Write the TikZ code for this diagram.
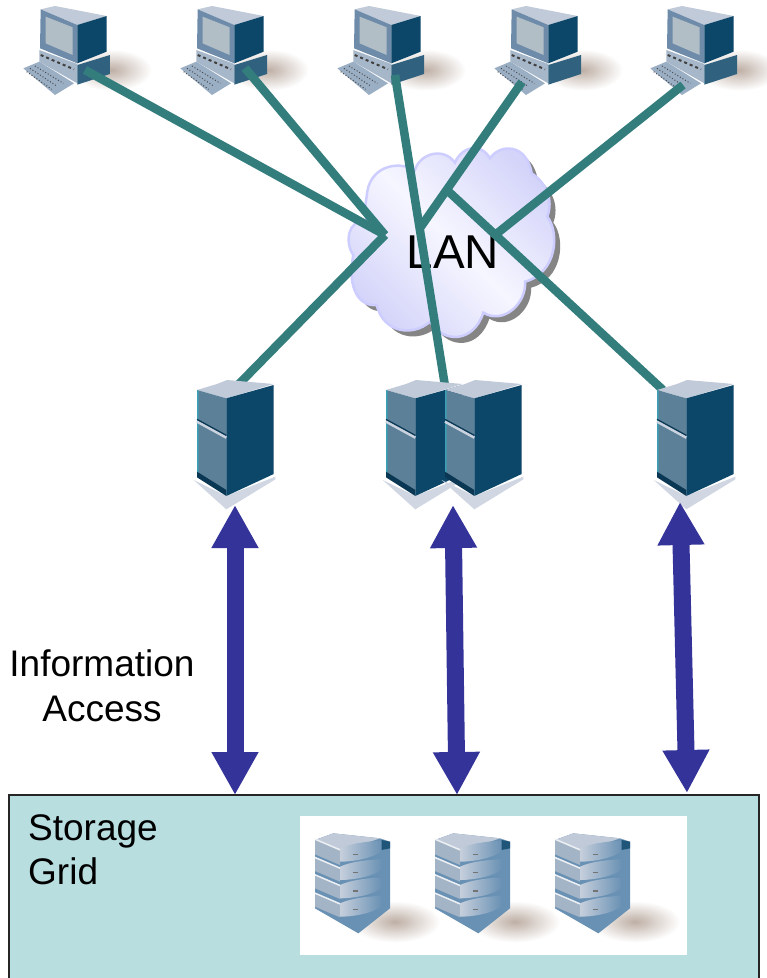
\documentclass[tikz,border=0pt]{standalone}
\usepackage{fontspec}
\setmainfont{Liberation Sans}
\usetikzlibrary{arrows.meta}
\definecolor{teal1}{RGB}{51,125,125}
\definecolor{blue1}{RGB}{51,51,153}
\definecolor{grid1}{RGB}{184,222,224}
\definecolor{cloudedge}{RGB}{205,205,255}
\definecolor{cloudlight}{RGB}{246,246,255}
\definecolor{clouddark}{RGB}{212,212,250}
\definecolor{sdark}{RGB}{12,70,105}
\definecolor{sfront}{RGB}{92,128,152}
\definecolor{stop}{RGB}{192,202,216}
\definecolor{scyan}{RGB}{60,160,180}
\definecolor{pcfront}{RGB}{110,140,170}
\definecolor{pcscreen}{RGB}{178,190,198}
\definecolor{shadowc}{RGB}{190,175,165}
\definecolor{diskbody}{RGB}{105,145,180}
\tikzset{
  lanlink/.style={draw=teal1,line width=8.5pt},
  access/.style={draw=blue1,line width=17pt,{Triangle[width=44pt,length=43pt]}-{Triangle[width=44pt,length=43pt]}},
  label/.style={font=\fontsize{37}{44.5}\selectfont,inner sep=0pt,align=center},
  softshadow/.style={inner color=shadowc,outer color=white,draw=none},
  computer/.pic={
    \begin{scope}[scale=1/3]
      \shade[softshadow] (335,210) ellipse (120 and 62);
      \fill[pcfront!70!white] (70,205) -- (118,185) -- (222,250) -- (165,285) -- cycle;
      \draw[black!70,line width=1pt,dotted] (90,205) -- (170,258);
      \draw[black!70,line width=1pt,dotted] (105,198) -- (190,250);
      \draw[black!70,line width=1pt,dotted] (80,215) -- (155,268);
      \fill[stop!70!pcfront] (118,150) -- (232,192) -- (232,250) -- (118,185) -- cycle;
      \draw[black!75,line width=2pt,dashed] (122,165) -- (222,208);
      \fill[sdark!85!white] (232,195) -- (330,165) -- (330,222) -- (232,254) -- cycle;
      \fill[stop] (122,28) -- (165,18) -- (320,48) -- (232,75) -- cycle;
      \fill[pcfront] (122,28) -- (232,75) -- (232,190) -- (120,145) -- cycle;
      \fill[sdark] (232,75) -- (320,48) -- (320,155) -- (232,190) -- cycle;
      \fill[pcscreen] (137,50) -- (218,82) -- (218,165) -- (137,130) -- cycle;
    \end{scope}
  },
  serverbox/.pic={
    \begin{scope}[scale=1/3]
      \fill[stop!75!white] (-10,330) -- (88,378) -- (235,320) -- (235,328) -- (88,418) -- cycle;
      \fill[stop] (0,60) -- (60,42) -- (90,30) -- (230,42) -- (88,85) -- cycle;
      \fill[sfront] (0,60) -- (88,85) -- (88,375) -- (0,320) -- cycle;
      \fill[scyan] (0,60) -- (5,62) -- (5,322) -- (0,320) -- cycle;
      \fill[sdark!80!black] (0,305) -- (88,360) -- (88,378) -- (0,322) -- cycle;
      \fill[sdark] (88,85) -- (230,45) -- (230,312) -- (88,378) -- cycle;
      \draw[stop!85!white,line width=2.5pt] (0,155) -- (88,203);
      \draw[sdark!80!black,line width=1.2pt] (0,148) -- (88,196);
    \end{scope}
  },
  disk/.pic={
    \begin{scope}[scale=1/3]
      \shade[softshadow] (315,335) ellipse (135 and 62);
      \fill[diskbody] (75,90) -- (130,70) -- (270,85) -- (300,95) -- (300,295) -- (205,370) -- (75,295) -- cycle;
      \fill[stop] (75,90) -- (130,70) -- (270,85) -- (150,125) -- cycle;
      \foreach \y/\h in {88/45,143/40,195/40,250/40}{
        \fill[stop!70!sfront] (75,\y) -- (150,\y+32) -- (150,\y+32+\h) -- (75,\y+\h) -- cycle;
        \fill[white!70!stop] (75,\y-3) -- (150,\y+29) -- (150,\y+34) -- (75,\y+2) -- cycle;
      }
      \foreach \y in {85,140,195,250}{
        \shade[left color=stop!90!white,right color=diskbody] (150,\y+30) .. controls (190,\y+12) and (250,\y+8) .. (275,\y+8) -- (275,\y+38) .. controls (250,\y+60) and (190,\y+70) .. (150,\y+70) -- cycle;
        \fill[black!55] (190,\y+46) rectangle (205,\y+50);
      }
      \fill[sdark!80!diskbody] (275,90) -- (300,95) -- (300,115) -- (275,120) -- cycle;
    \end{scope}
  }
}
\begin{document}
\begin{tikzpicture}[x=1pt,y=-1pt]
\useasboundingbox (0,0) rectangle (767,978);
\fill[white] (0,0) rectangle (767,978);
% storage grid
\begin{scope}
\clip (0,0) rectangle (767,978);
\node[draw=black!85,line width=1.5pt,fill=grid1,minimum width=750pt,minimum height=200pt,anchor=north west,inner sep=0pt] (grid) at (8,794) {};
\end{scope}
\node[fill=white,minimum width=387pt,minimum height=139pt,anchor=north west,inner sep=0pt] (rack) at (300,816) {};
\pic at (290,810) {disk};
\pic at (410,810) {disk};
\pic at (530,810) {disk};
% computers
\pic at (0,0) {computer};
\pic at (157,0) {computer};
\pic at (314,0) {computer};
\pic at (471,0) {computer};
\pic at (627,0) {computer};
% cloud
\def\cloudpath{(110,200) .. controls (115,110) and (200,90) .. (255,120) .. controls (270,70) and (340,50) .. (375,98) .. controls (395,50) and (450,35) .. (480,85) .. controls (510,40) and (590,40) .. (605,130) .. controls (650,160) and (670,210) .. (652,260) .. controls (690,310) and (680,430) .. (585,455) .. controls (590,520) and (520,585) .. (460,548) .. controls (430,640) and (340,640) .. (300,575) .. controls (250,620) and (160,610) .. (140,525) .. controls (90,530) and (50,480) .. (70,375) .. controls (45,340) and (50,270) .. (110,270) .. controls (105,250) and (105,225) .. (110,200) -- cycle}
\begin{scope}[shift={(330,130)},scale=1/3]
  \fill[black!48,shift={(18,18)}] \cloudpath;
  \draw[cloudedge,line width=2.5pt,top color=clouddark,bottom color=clouddark,middle color=cloudlight,shading angle=-45] \cloudpath;
\end{scope}
\node[font=\fontsize{47.5}{50}\selectfont,inner sep=0pt] (lan) at (453,252) {LAN};
% connector ends
\coordinate (pc1) at (85,70);
\coordinate (pc2) at (245,68);
\coordinate (pc3) at (395,75);
\coordinate (pc4) at (522,82);
\coordinate (pc5) at (683,85);
\coordinate (hubW) at (385,235);
\coordinate (hubC) at (420,228);
\coordinate (hubE) at (495,235);
\coordinate (hubN) at (448,191);
\coordinate (srv1) at (237,386);
\coordinate (srv2) at (445,386);
\coordinate (srv3) at (663,390);
\draw[lanlink] (pc1) -- (hubW);
\draw[lanlink] (pc2) -- (hubW);
\draw[lanlink] (srv1) -- (hubW);
\draw[lanlink] (pc3) -- (srv2);
\draw[lanlink] (pc4) -- (hubC);
\draw[lanlink] (pc5) -- (hubE);
\draw[lanlink] (srv3) -- (hubN);
% servers
\pic at (197,370) {serverbox};
\pic at (386,370) {serverbox};
\pic at (445,370) {serverbox};
\pic at (657,370) {serverbox};
% access arrows
\coordinate (a1t) at (235,505);
\coordinate (a1b) at (235,795);
\coordinate (a2t) at (453,505);
\coordinate (a2b) at (457,795);
\coordinate (a3t) at (680,502);
\coordinate (a3b) at (687,793);
\draw[access] (a1t) -- (a1b);
\draw[access] (a2t) -- (a2b);
\draw[access] (a3t) -- (a3b);
% labels
\node[label] (info) at (102,686) {Information\\Access};
\node[label,align=left,anchor=west] (store) at (28,850) {Storage\\Grid};
\end{tikzpicture}
\end{document}
